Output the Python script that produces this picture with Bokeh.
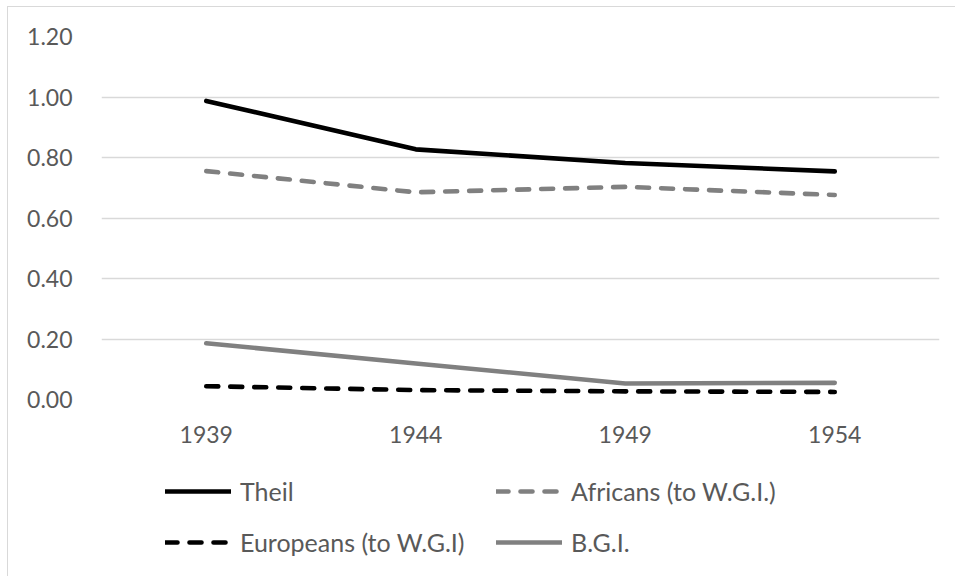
from bokeh.plotting import figure
from bokeh.layouts import column
from bokeh.models import FactorRange, Range1d, FixedTicker, PrintfTickFormatter, Legend, LegendItem
from bokeh.embed import file_html
from bokeh.resources import INLINE

years = ["1939", "1944", "1949", "1954"]
theil = [0.987, 0.827, 0.782, 0.754]
africans = [0.755, 0.685, 0.703, 0.676]
europeans = [0.044, 0.031, 0.027, 0.025]
bgi = [0.186, 0.119, 0.053, 0.055]
y_ticks = [0.0, 0.2, 0.4, 0.6, 0.8, 1.0, 1.2]
series_labels = ["Theil", "Africans (to W.G.I.)", "Europeans (to W.G.I)", "B.G.I."]

FONT = "Lato"
TXT = "#595959"
GRID = "#d9d9d9"
GRAY = "#808080"
lw = 4.6
styles = [dict(line_color="black", line_width=lw, line_cap="round", line_join="round"),
          dict(line_color=GRAY, line_width=lw, line_dash="12 12", line_cap="round", line_join="round"),
          dict(line_color="black", line_width=lw, line_dash="12 12", line_cap="round", line_join="round"),
          dict(line_color=GRAY, line_width=lw, line_cap="round", line_join="round")]

p = figure(x_range=FactorRange(*years), y_range=Range1d(0, 1.2),
           frame_width=837, frame_height=362,
           min_border_left=93, min_border_top=29, min_border_right=17, min_border_bottom=50,
           output_backend="svg", toolbar_location=None)
p.styles = {"margin-left": "7px", "margin-top": "6px",
            "border-top": "1px solid #d9d9d9", "border-left": "1px solid #d9d9d9"}
p.outline_line_color = None
p.background_fill_color = "white"
p.border_fill_color = "white"

p.xgrid.grid_line_color = None
p.ygrid.grid_line_color = GRID
p.ygrid.grid_line_width = 1.3

p.yaxis.ticker = FixedTicker(ticks=y_ticks)
p.yaxis.formatter = PrintfTickFormatter(format="%.2f")
for ax in (p.xaxis[0], p.yaxis[0]):
    ax.axis_line_color = None
    ax.major_tick_line_color = None
    ax.minor_tick_line_color = None
    ax.major_label_text_font = FONT
    ax.major_label_text_font_size = "23px"
    ax.major_label_text_color = TXT
p.yaxis.major_label_standoff = 23
p.xaxis.major_label_standoff = 20

for vals, st in zip([theil, africans, europeans, bgi], styles):
    p.line(years, vals, **st)

# legend panel (separate figure under the chart)
q = figure(x_range=Range1d(0, 1), y_range=Range1d(0, 1), width=947, height=128,
           min_border=0, output_backend="svg", toolbar_location=None,
           x_axis_type=None, y_axis_type=None)
q.styles = {"margin-left": "7px", "border-left": "1px solid #d9d9d9"}
q.outline_line_color = None
q.grid.visible = False
q.background_fill_color = "white"
q.border_fill_color = "white"
nan = float("nan")
rs = [q.line([nan, nan], [nan, nan], **st) for st in styles]

legend = Legend(items=[LegendItem(label=lab, renderers=[r]) for lab, r in zip(series_labels, rs)],
                orientation="horizontal", ncols=2, location=(64, 16),
                glyph_width=66, glyph_height=36, label_height=36, label_width=241,
                label_standoff=9, spacing=15, padding=0, margin=0,
                label_text_font=FONT, label_text_font_size="25px", label_text_color=TXT,
                border_line_color=None, background_fill_alpha=0)
q.add_layout(legend, "center")

layout = column(p, q, spacing=0)
open("out.html", "w").write(file_html(layout, INLINE))
